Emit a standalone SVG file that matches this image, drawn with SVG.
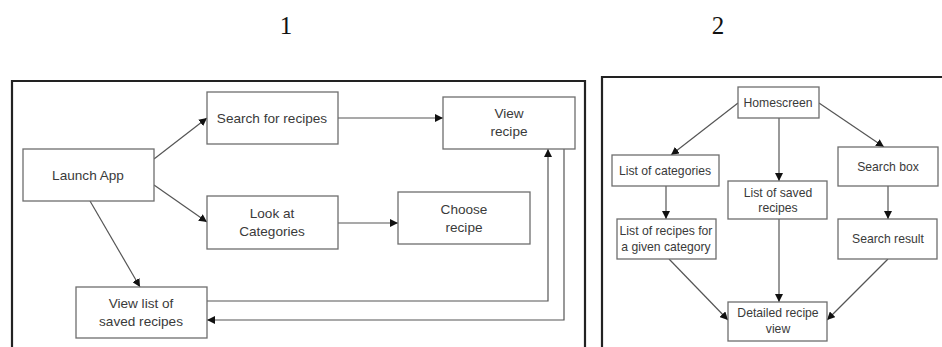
<svg xmlns="http://www.w3.org/2000/svg" width="942" height="347" viewBox="0 0 942 347">
<style>
.frame{fill:none;stroke:#222;stroke-width:2.2}
.box{fill:#fff;stroke:#6e6e6e;stroke-width:1.3}
.t{font-family:"Liberation Sans",Arial,sans-serif;font-size:13.6px;fill:#3a3a3a;text-anchor:middle}
.t2{font-family:"Liberation Sans",Arial,sans-serif;font-size:12.2px;fill:#3a3a3a;text-anchor:middle}
.num{font-family:"Liberation Serif","Times New Roman",serif;font-size:25px;fill:#111;text-anchor:middle}
.c{fill:none;stroke:#555;stroke-width:1.2}
</style>
<defs>
<marker id="ah" viewBox="0 0 10 10" refX="10" refY="5" markerWidth="8" markerHeight="8" markerUnits="userSpaceOnUse" orient="auto">
<path d="M0,0 L10,5 L0,10 z" fill="#111"/>
</marker>
</defs>
<rect width="942" height="347" fill="#fff"/>
<text class="num" x="286" y="34">1</text>
<text class="num" x="718" y="34">2</text>
<path class="frame" d="M12,347 L12,81 L585,81 L585,347"/>
<path class="frame" d="M602,347 L602,77 L942,77"/>
<g id="connectors">
<line class="c" x1="154" y1="159" x2="207" y2="118" marker-end="url(#ah)"/>
<line class="c" x1="154" y1="185" x2="207" y2="222" marker-end="url(#ah)"/>
<line class="c" x1="90" y1="201" x2="140" y2="287" marker-end="url(#ah)"/>
<line class="c" x1="338" y1="118" x2="443" y2="118" marker-end="url(#ah)"/>
<line class="c" x1="338" y1="223" x2="398" y2="223" marker-end="url(#ah)"/>
<polyline class="c" points="207,301 548,301 548,149" marker-end="url(#ah)"/>
<polyline class="c" points="564,149 564,320 207,320" marker-end="url(#ah)"/>
<line class="c" x1="738" y1="103" x2="671" y2="155" marker-end="url(#ah)"/>
<line class="c" x1="779" y1="118" x2="779" y2="181" marker-end="url(#ah)"/>
<line class="c" x1="819" y1="103" x2="884" y2="147" marker-end="url(#ah)"/>
<line class="c" x1="666" y1="186" x2="666" y2="219" marker-end="url(#ah)"/>
<line class="c" x1="888" y1="186" x2="888" y2="219" marker-end="url(#ah)"/>
<line class="c" x1="669" y1="259" x2="728" y2="320" marker-end="url(#ah)"/>
<line class="c" x1="779" y1="219" x2="779" y2="302" marker-end="url(#ah)"/>
<line class="c" x1="888" y1="259" x2="827" y2="320" marker-end="url(#ah)"/>
</g>
<g id="launch"><rect class="box" x="23" y="149" width="131" height="52"/><text class="t" x="88" y="180">Launch App</text></g>
<g id="search"><rect class="box" x="207" y="92" width="131" height="52"/><text class="t" x="272" y="123">Search for recipes</text></g>
<g id="viewrecipe"><rect class="box" x="443" y="97" width="132" height="52"/><text class="t" x="509" y="118">View</text><text class="t" x="509" y="136">recipe</text></g>
<g id="categories"><rect class="box" x="207" y="196" width="131" height="53"/><text class="t" x="272" y="218">Look at</text><text class="t" x="272" y="236">Categories</text></g>
<g id="choose"><rect class="box" x="398" y="192" width="132" height="52"/><text class="t" x="464" y="214">Choose</text><text class="t" x="464" y="232">recipe</text></g>
<g id="savedlist"><rect class="box" x="76" y="287" width="131" height="51"/><text class="t" x="141" y="308">View list of</text><text class="t" x="141" y="326">saved recipes</text></g>
<g id="homescreen"><rect class="box" x="738" y="87" width="81" height="31"/><text class="t2" x="778" y="107">Homescreen</text></g>
<g id="listcat"><rect class="box" x="612" y="155" width="107" height="31"/><text class="t2" x="665" y="175">List of categories</text></g>
<g id="listsaved"><rect class="box" x="728" y="181" width="99" height="38"/><text class="t2" x="778" y="197">List of saved</text><text class="t2" x="778" y="212">recipes</text></g>
<g id="searchbox"><rect class="box" x="838" y="147" width="100" height="39"/><text class="t2" x="888" y="171">Search box</text></g>
<g id="recipesfor"><rect class="box" x="617" y="219" width="99" height="40"/><text class="t2" x="666" y="235">List of recipes for</text><text class="t2" x="666" y="251">a given category</text></g>
<g id="searchresult"><rect class="box" x="838" y="219" width="99" height="40"/><text class="t2" x="888" y="243">Search result</text></g>
<g id="detailed"><rect class="box" x="728" y="302" width="99" height="39"/><text class="t2" x="778" y="317">Detailed recipe</text><text class="t2" x="778" y="333">view</text></g>
</svg>
